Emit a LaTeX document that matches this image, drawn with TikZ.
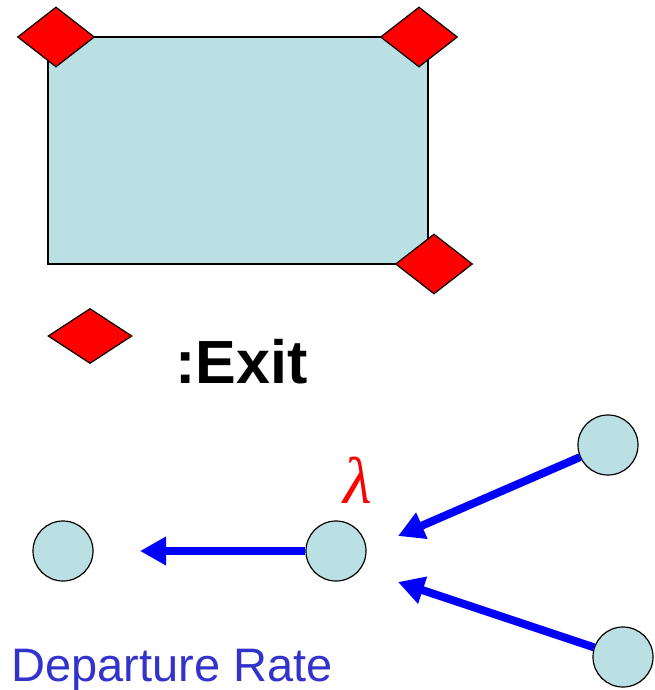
\documentclass[tikz,border=0pt]{standalone}
\usepackage{fontspec}
\setmainfont{Liberation Sans}
\newfontfamily\lamfont{Liberation Serif}
\usetikzlibrary{arrows.meta,shapes.geometric}
\definecolor{qcyan}{HTML}{BBE0E3}
\definecolor{qred}{HTML}{FF0000}
\definecolor{qblue}{HTML}{0000FF}
\definecolor{qtext}{HTML}{3333CC}

\begin{document}
\begin{tikzpicture}[x=1pt, y=-1pt,
    exitmark/.style={draw, line width=1.2pt, fill=qred, diamond, inner sep=0pt, minimum width=77pt, minimum height=60pt},
    cell/.style={draw, line width=1.2pt, fill=qcyan, circle, inner sep=0pt, minimum size=60pt},
    flow/.style={qblue, line width=8pt, -{Triangle[length=26pt, width=27pt]}}]
    \useasboundingbox (0,0) rectangle (654,690);

    % room with its exits
    \node[draw, line width=1.2pt, fill=qcyan, rectangle, minimum width=380pt, minimum height=227pt, inner sep=0pt] (room) at (238,150.5) {};
    \node[exitmark] (exitA) at (56,37) {};
    \node[exitmark] (exitB) at (419,37) {};
    \node[exitmark] (exitC) at (434,264) {};

    % legend
    \node[exitmark, minimum width=84pt, minimum height=55pt] (key) at (90,336) {};
    \node[anchor=base west, font=\fontsize{61}{61}\selectfont\bfseries] (keytext) at (172,383) {:Exit};

    % cells
    \node[cell] (left) at (63,551) {};
    \node[cell] (mid) at (336,551) {};
    \node[cell] (upper) at (608,445) {};
    \node[cell] (lower) at (623,657) {};
    \coordinate (tipL) at (140,551);
    \coordinate (tipU) at (398,536);
    \coordinate (tipD) at (398,582);

    \draw[flow] (mid) -- (tipL);
    \draw[flow] (upper) -- (tipU);
    \draw[flow] (lower) -- (tipD);

    \node[qred, font=\fontsize{66}{66}\selectfont\lamfont\itshape] (rate) at (358,480) {λ};
    \node[qtext, anchor=base west, font=\fontsize{47}{47}\selectfont] (dep) at (8,681) {Departure Rate};
\end{tikzpicture}
\end{document}
